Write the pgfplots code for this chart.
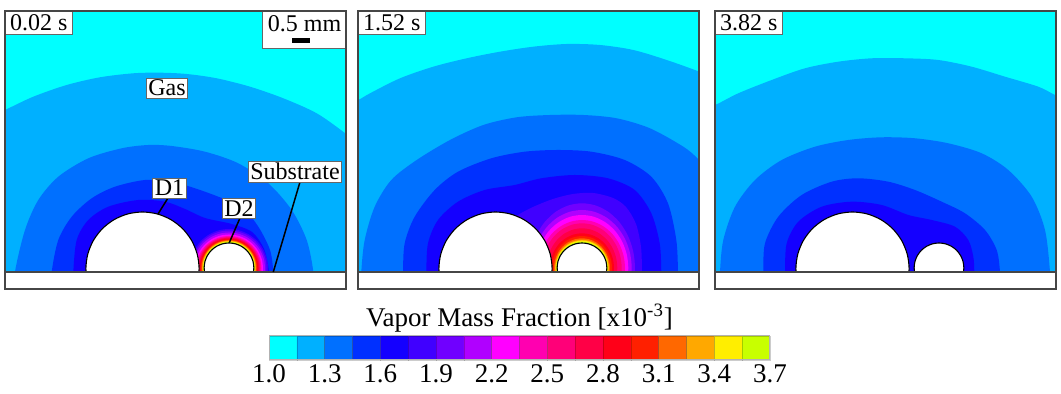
\documentclass[border=0pt]{standalone}
\usepackage{fontspec}
\setmainfont{Liberation Serif}
\usepackage{pgfplots}
\pgfplotsset{compat=1.18}
\usepackage{pgfplotstable}

\definecolor{c1}{RGB}{0,255,255}
\definecolor{c2}{RGB}{0,176,255}
\definecolor{c3}{RGB}{0,112,255}
\definecolor{c4}{RGB}{0,48,255}
\definecolor{c5}{RGB}{20,0,255}
\definecolor{c6}{RGB}{64,0,255}
\definecolor{c7}{RGB}{112,0,255}
\definecolor{c8}{RGB}{176,0,255}
\definecolor{c9}{RGB}{255,0,255}
\definecolor{c10}{RGB}{255,0,176}
\definecolor{c11}{RGB}{255,0,120}
\definecolor{c12}{RGB}{255,0,70}
\definecolor{c13}{RGB}{255,0,24}
\definecolor{c14}{RGB}{255,32,0}
\definecolor{c15}{RGB}{255,104,0}
\definecolor{c16}{RGB}{255,168,0}
\definecolor{c17}{RGB}{255,238,0}
\definecolor{c18}{RGB}{200,255,0}
\definecolor{frame}{RGB}{70,70,70}

% unit circle outline (seam at the bottom, hidden by the substrate)
\pgfplotstableread{
x y
0 -1
0.2588 -0.9659
0.5 -0.8660
0.7071 -0.7071
0.8660 -0.5
0.9659 -0.2588
1 0
0.9659 0.2588
0.8660 0.5
0.7071 0.7071
0.5 0.8660
0.2588 0.9659
0 1
-0.2588 0.9659
-0.5 0.8660
-0.7071 0.7071
-0.8660 0.5
-0.9659 0.2588
-1 0
-0.9659 -0.2588
-0.8660 -0.5
-0.7071 -0.7071
-0.5 -0.8660
-0.2588 -0.9659
0 -1
}\unitc

\newcommand{\ring}[5]{\addplot[fill=#1,draw=none,smooth] table[x expr={#2+#4*\thisrow{x}}, y expr={#3+#5*\thisrow{y}}] {\unitc};}
\newcommand{\droplets}{%
  \addplot[fill=white,draw=black,line width=0.55pt,smooth] table[x expr={137.5+56.6*\thisrow{x}}, y expr={20.4+56.6*\thisrow{y}}] {\unitc};
  \addplot[fill=white,draw=black,line width=0.55pt,smooth] table[x expr={224+24.85*\thisrow{x}}, y expr={21.15+24.85*\thisrow{y}}] {\unitc};
  \addplot[fill=white,draw=none] coordinates {(-5,-5)(346,-5)(346,17)(-5,17)};
  \addplot[frame,line width=0.7pt] coordinates {(0,17)(341,17)};
}
\newcommand{\bg}{\addplot[fill=c1,draw=none] coordinates {(-5,-5)(346,-5)(346,283)(-5,283)};}

\pgfplotsset{
  panel/.style={scale only axis, width=170.5pt, height=139pt,
    xmin=0, xmax=341, ymin=0, ymax=278, xtick=\empty, ytick=\empty,
    axis on top, axis line style={draw=frame, line width=0.7pt}, anchor=south west},
  cf/.style={fill=#1, draw=none, smooth},
}
\tikzset{lbl/.style={fill=white, draw=black!60, line width=0.4pt, font=\fontsize{12}{14}\selectfont}}

\begin{document}
\begin{tikzpicture}
\useasboundingbox (0,0) rectangle (530.5pt,197pt);

% ---------------- panel 1: 0.02 s
\begin{axis}[panel, at={(2.5pt,52.5pt)}]
\bg
\addplot[cf=c2] coordinates {(-20,-5)(-20,170)(0,179)(28.3,192.3)(61.7,204)(95,211.7)(128.3,215.7)(155,216.3)(181.7,215)(211.7,210.7)(245,202.3)(278.3,190.7)(311.7,175.7)(340.3,155.7)(360,140)(360,-5)};
\addplot[cf=c3] coordinates {(10,-5)(10,17.3)(20,59)(33.3,89)(53.3,112.3)(83.3,130.7)(116.7,140.7)(143.3,144)(166.7,143)(200,137.3)(233.3,125.7)(263.3,105.7)(286.7,79)(301.7,49)(308.3,17.3)(308.3,-5)};
\addplot[cf=c4] coordinates {(46.7,-5)(46.7,17)(53.3,49)(66.7,72.3)(86.7,90.7)(110,102.3)(140,109)(166.7,107.3)(190,100.7)(213.3,92.3)(236.7,82.3)(253.3,62.3)(265,39)(268.3,17)(268.3,-5)};
\addplot[cf=c5] coordinates {(68.3,-5)(68.3,17)(71.7,49)(83.3,69)(103.3,82.3)(133.3,89)(160,87.3)(180,80)(200,71)(226.7,65)(247,57)(259,40)(264,17)(264,-5)};
\ring{c6}{224}{21}{39}{39}
\ring{c7}{224}{21}{37.5}{37.5}
\ring{c8}{224}{21}{36}{35.5}
\ring{c9}{224}{21}{34}{33.5}
\ring{c10}{224}{21}{32.5}{32}
\ring{c11}{224}{21}{31.3}{31}
\ring{c12}{224}{21}{30.3}{30.2}
\ring{c13}{224}{21}{29.3}{29.3}
\ring{c14}{224}{21}{28.3}{28.5}
\ring{c15}{224}{21}{27.5}{27.8}
\ring{c16}{224}{21}{26.8}{27.2}
\ring{c17}{224}{21}{26.2}{26.6}
\ring{c18}{224}{21}{25.6}{26}
\droplets
% scale bar box
\addplot[fill=white,draw=black!60,line width=0.4pt] coordinates {(257,241)(341,241)(341,278)(257,278)(257,241)};
\addplot[fill=black,draw=none] coordinates {(287.3,245.7)(305,245.7)(305,250.7)(287.3,250.7)};
\node[font=\fontsize{12}{14}\selectfont] at (axis cs:299.5,265) {0.5 mm};
% leader lines
\addplot[black,line width=0.75pt] coordinates {(163,91)(153,75)};
\addplot[black,line width=0.75pt] coordinates {(235,71)(224.3,46.3)};
\addplot[black,line width=0.75pt] coordinates {(295,107)(268.3,17)};
\node[lbl, inner xsep=2.4pt, inner ysep=1.8pt, anchor=north west] at (axis cs:0,278) {0.02 s};
\node[lbl, inner sep=1pt] at (axis cs:162,201) {Gas};
\node[lbl, inner sep=1pt] at (axis cs:164.5,101) {D1};
\node[lbl, inner sep=1pt] at (axis cs:234,80.5) {D2};
\node[lbl, inner sep=1pt] at (axis cs:290,117.5) {Substrate};
\end{axis}

% ---------------- panel 2: 1.52 s
\begin{axis}[panel, at={(179pt,52.5pt)}]
\bg
\addplot[cf=c2] coordinates {(-20,-5)(-20,180)(0.3,189)(12,195.7)(42,210.7)(75.3,222.3)(108.7,230.7)(142,237.3)(175.3,242.3)(208.7,245)(242,244)(275.3,239)(308.7,229)(341.3,217.3)(360,209)(360,-5)};
\addplot[cf=c3] coordinates {(3.3,-5)(3.3,17)(6.7,49)(16.7,82.3)(33.3,109)(58.7,129)(92,149)(125.3,164)(158.7,171.7)(192,174)(225.3,174)(258.7,170.7)(292,160.7)(325.3,142.3)(341.3,129)(370,100)(370,-5)};
\addplot[cf=c4] coordinates {(45,-5)(45,17)(46.7,45.7)(56.7,72.3)(76.7,99)(100,117.3)(133.3,130.7)(166.7,137.3)(200,139)(233.3,137.3)(266.7,129)(293.3,112.3)(310,85.7)(318.3,49)(320,17)(320,-5)};
\addplot[cf=c5] coordinates {(68.3,-5)(68.3,17)(70,45.7)(80,69)(100,87.3)(126.7,99)(156.7,104)(183.3,110.7)(216.7,114)(250,110.7)(276.7,99)(293.3,75.7)(301.7,45.7)(303.3,17)(303.3,-5)};
\addplot[cf=c6] coordinates {(284,-5)(140,-5)(140,60)(160,74)(175,82)(195,90)(215,95)(235,96)(255,91)(268,82)(278,65)(283,42)(284,17)(284,-5)};
\ring{c7}{224}{21}{53}{64.7}
\ring{c8}{224}{21}{49.7}{58}
\ring{c9}{224}{21}{46.3}{53}
\ring{c10}{224}{21}{43}{48}
\ring{c11}{224}{21}{39.7}{44.7}
\ring{c12}{224}{21}{35.3}{39.7}
\ring{c13}{224}{21}{32}{34.7}
\ring{c14}{224}{21}{30}{32}
\ring{c15}{224}{21}{28}{29.7}
\ring{c16}{224}{21}{27}{28.2}
\ring{c17}{224}{21}{26.3}{27.3}
\ring{c18}{224}{21}{25.6}{26.3}
\droplets
\node[lbl, inner xsep=2.4pt, inner ysep=1.8pt, anchor=north west] at (axis cs:0,278) {1.52 s};
\end{axis}

% ---------------- panel 3: 3.82 s
\begin{axis}[panel, at={(357.5pt,52.5pt)}]
\bg
\addplot[cf=c2] coordinates {(-20,-5)(-20,178)(0,184)(23.3,195.7)(56.7,209)(90,220.7)(123.3,227.3)(156.7,230.7)(190,230.7)(223.3,229)(256.7,222.3)(290,212.3)(323.3,202.3)(340,194)(360,185)(360,-5)};
\addplot[cf=c3] coordinates {(5,-5)(5,17)(8.3,49)(20,82.3)(40,109)(66.7,129)(100,142.3)(133.3,149)(166.7,151.7)(200,150.7)(233.3,145.7)(266.7,135.7)(293.3,119)(316.7,92.3)(330,59)(335,17)(335,-5)};
\addplot[cf=c4] coordinates {(48.3,-5)(48.3,17)(50,45.7)(63.3,72.3)(86.7,94)(116.7,107.3)(143.3,110.7)(173.3,107.3)(200,99)(226.7,87.3)(250,75.7)(270,59)(281.7,39)(285,17)(285,-5)};
\addplot[cf=c5] coordinates {(70,-5)(70,17)(71.7,45.7)(83.3,67.3)(106.7,82.3)(136.7,87.3)(166.7,84)(193.3,74)(216.7,69)(240,62.3)(253.3,49)(258.3,32.3)(259.3,17)(259.3,-5)};
\droplets
\node[lbl, inner xsep=2.4pt, inner ysep=1.8pt, anchor=north west] at (axis cs:0,278) {3.82 s};
\end{axis}

% ---------------- colour bar
\begin{axis}[scale only axis, at={(134.5pt,17pt)}, anchor=south west,
  width=250.5pt, height=12pt, xmin=1, xmax=3.7, ymin=0, ymax=1,
  ytick=\empty, xtick={1.0,1.3,1.6,1.9,2.2,2.5,2.8,3.1,3.4,3.7},
  xticklabels={1.0,1.3,1.6,1.9,2.2,2.5,2.8,3.1,3.4,3.7},
  major tick length=0pt, axis on top, clip=false,
  axis line style={draw=black!30, line width=0.5pt},
  xticklabel style={font=\fontsize{13.5}{16}\selectfont, anchor=base, yshift=-11.5pt},
]
\addplot[fill=c1,draw=black,draw opacity=0.2,line width=0.3pt] coordinates {(1.00,0)(1.15,0)(1.15,1)(1.00,1)(1.00,0)};
\addplot[fill=c2,draw=black,draw opacity=0.2,line width=0.3pt] coordinates {(1.15,0)(1.30,0)(1.30,1)(1.15,1)(1.15,0)};
\addplot[fill=c3,draw=black,draw opacity=0.2,line width=0.3pt] coordinates {(1.30,0)(1.45,0)(1.45,1)(1.30,1)(1.30,0)};
\addplot[fill=c4,draw=black,draw opacity=0.2,line width=0.3pt] coordinates {(1.45,0)(1.60,0)(1.60,1)(1.45,1)(1.45,0)};
\addplot[fill=c5,draw=black,draw opacity=0.2,line width=0.3pt] coordinates {(1.60,0)(1.75,0)(1.75,1)(1.60,1)(1.60,0)};
\addplot[fill=c6,draw=black,draw opacity=0.2,line width=0.3pt] coordinates {(1.75,0)(1.90,0)(1.90,1)(1.75,1)(1.75,0)};
\addplot[fill=c7,draw=black,draw opacity=0.2,line width=0.3pt] coordinates {(1.90,0)(2.05,0)(2.05,1)(1.90,1)(1.90,0)};
\addplot[fill=c8,draw=black,draw opacity=0.2,line width=0.3pt] coordinates {(2.05,0)(2.20,0)(2.20,1)(2.05,1)(2.05,0)};
\addplot[fill=c9,draw=black,draw opacity=0.2,line width=0.3pt] coordinates {(2.20,0)(2.35,0)(2.35,1)(2.20,1)(2.20,0)};
\addplot[fill=c10,draw=black,draw opacity=0.2,line width=0.3pt] coordinates {(2.35,0)(2.50,0)(2.50,1)(2.35,1)(2.35,0)};
\addplot[fill=c11,draw=black,draw opacity=0.2,line width=0.3pt] coordinates {(2.50,0)(2.65,0)(2.65,1)(2.50,1)(2.50,0)};
\addplot[fill=c12,draw=black,draw opacity=0.2,line width=0.3pt] coordinates {(2.65,0)(2.80,0)(2.80,1)(2.65,1)(2.65,0)};
\addplot[fill=c13,draw=black,draw opacity=0.2,line width=0.3pt] coordinates {(2.80,0)(2.95,0)(2.95,1)(2.80,1)(2.80,0)};
\addplot[fill=c14,draw=black,draw opacity=0.2,line width=0.3pt] coordinates {(2.95,0)(3.10,0)(3.10,1)(2.95,1)(2.95,0)};
\addplot[fill=c15,draw=black,draw opacity=0.2,line width=0.3pt] coordinates {(3.10,0)(3.25,0)(3.25,1)(3.10,1)(3.10,0)};
\addplot[fill=c16,draw=black,draw opacity=0.2,line width=0.3pt] coordinates {(3.25,0)(3.40,0)(3.40,1)(3.25,1)(3.25,0)};
\addplot[fill=c17,draw=black,draw opacity=0.2,line width=0.3pt] coordinates {(3.40,0)(3.55,0)(3.55,1)(3.40,1)(3.40,0)};
\addplot[fill=c18,draw=black,draw opacity=0.2,line width=0.3pt] coordinates {(3.55,0)(3.70,0)(3.70,1)(3.55,1)(3.55,0)};
\node[anchor=base, font=\fontsize{13.5}{16}\selectfont, yshift=4.5pt] at (rel axis cs:0.5,1) {Vapor Mass Fraction [x10\textsuperscript{-3}]};
\end{axis}
\end{tikzpicture}
\end{document}
